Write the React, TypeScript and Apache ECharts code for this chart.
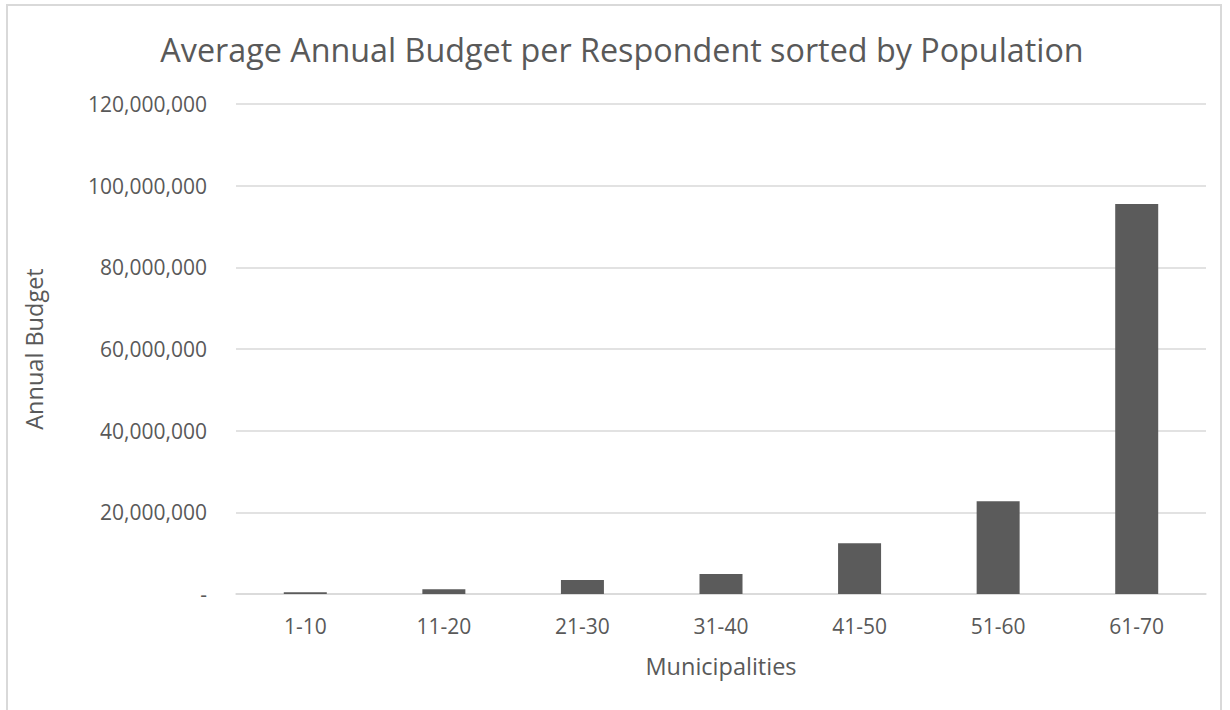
import React, { useEffect, useRef } from "react";
import * as echarts from "echarts";

const categories = ["1-10", "11-20", "21-30", "31-40", "41-50", "51-60", "61-70"];
const budgetValues = [400000, 1150000, 3430000, 4900000, 12400000, 22700000, 95500000];
const yTicks = { min: 0, max: 120000000, interval: 20000000 };

const FONT = "'Open Sans', sans-serif";
const TEXT = "#595959";

export default function App() {
  const ref = useRef<HTMLDivElement>(null);
  useEffect(() => {
    if (!ref.current) return;
    const chart = echarts.init(ref.current, null, { renderer: "svg" });
    chart.setOption({
      animation: false,
      backgroundColor: "#ffffff",
      textStyle: { fontFamily: FONT },
      title: {
        text: "Average Annual Budget per Respondent sorted by Population",
        left: 617,
        textAlign: "center",
        top: 28,
        textStyle: { fontFamily: FONT, fontSize: 32.3, fontWeight: "normal", color: TEXT },
      },
      graphic: [
        {
          type: "rect",
          shape: { x: 7, y: 5, width: 1214, height: 720 },
          style: { fill: "none", stroke: "#d9d9d9", lineWidth: 2 },
          silent: true,
        },
      ],
      grid: { left: 236, right: 24, top: 104, bottom: 116 },
      xAxis: {
        type: "category",
        data: categories,
        name: "Municipalities",
        nameLocation: "middle",
        nameGap: 60,
        nameTextStyle: { fontFamily: FONT, fontSize: 23.5, color: TEXT },
        axisLine: { lineStyle: { color: "#d9d9d9", width: 1.5 } },
        axisTick: { show: false },
        axisLabel: { fontFamily: FONT, fontSize: 21, color: TEXT, margin: 21 },
      },
      yAxis: {
        type: "value",
        min: yTicks.min,
        max: yTicks.max,
        interval: yTicks.interval,
        name: "Annual Budget",
        nameLocation: "middle",
        nameGap: 190,
        nameTextStyle: { fontFamily: FONT, fontSize: 23.5, color: TEXT },
        axisLine: { show: false },
        axisTick: { show: false },
        splitLine: { lineStyle: { color: "#d9d9d9", width: 1.5 } },
        axisLabel: {
          fontFamily: FONT,
          fontSize: 21,
          color: TEXT,
          margin: 29,
          formatter: (v: number) => (v === 0 ? "-" : v.toLocaleString("en-US")),
        },
      },
      series: [
        {
          type: "bar",
          data: budgetValues,
          barWidth: 43,
          itemStyle: { color: "#5b5b5b" },
        },
      ],
    });
    return () => chart.dispose();
  }, []);
  return (
    <div
      ref={ref}
      style={{ position: "absolute", left: 0, top: 0, width: 1230, height: 710 }}
    />
  );
}
